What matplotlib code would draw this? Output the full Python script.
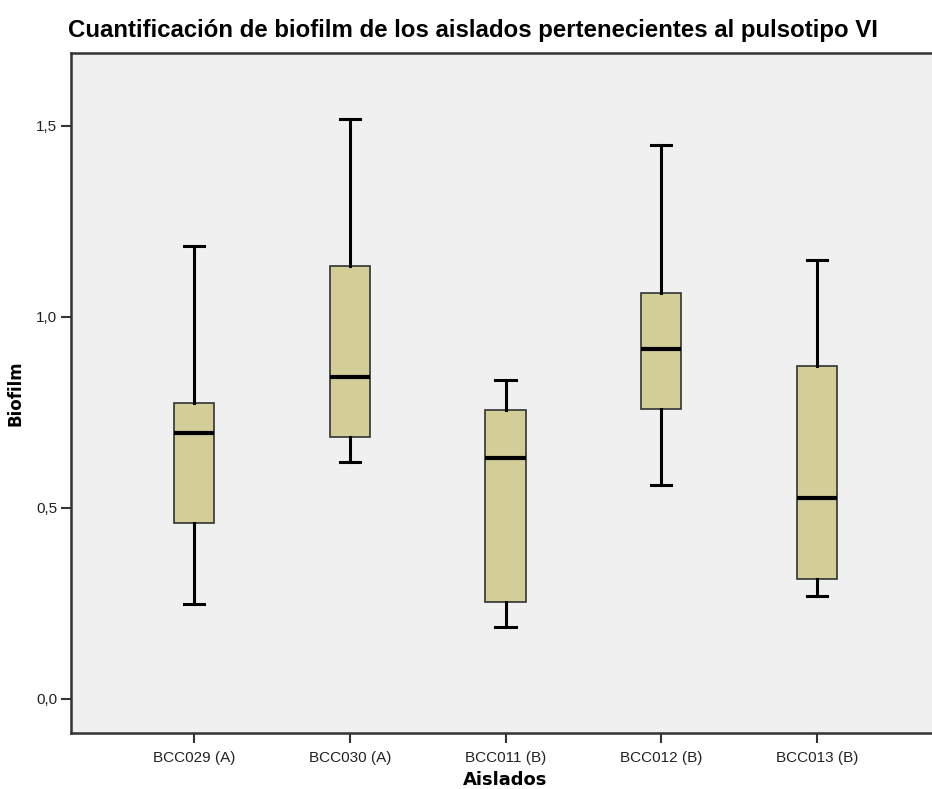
import matplotlib
matplotlib.use("Agg")
import matplotlib.pyplot as plt

aislados = ["BCC029 (A)", "BCC030 (A)", "BCC011 (B)", "BCC012 (B)", "BCC013 (B)"]
whislo = [0.249, 0.620, 0.188, 0.560, 0.270]
q1 = [0.461, 0.686, 0.254, 0.759, 0.314]
med = [0.696, 0.843, 0.631, 0.916, 0.526]
q3 = [0.775, 1.134, 0.757, 1.063, 0.872]
whishi = [1.186, 1.518, 0.835, 1.450, 1.149]
yticks = [0.0, 0.5, 1.0, 1.5]
ytick_labels = ["0,0", "0,5", "1,0", "1,5"]

stats = []
for i in range(len(aislados)):
    stats.append({"label": aislados[i], "whislo": whislo[i], "q1": q1[i],
                  "med": med[i], "q3": q3[i], "whishi": whishi[i]})

fig = plt.figure(figsize=(9.32, 7.89), dpi=100)
# axes goes a bit past the right edge like in the original export
ax = fig.add_axes([71/932, 1-733/789, (940-71)/932, (733-53)/789])
ax.set_facecolor("#f0f0f0")

ax.bxp(stats, positions=range(1, 6), widths=0.257, patch_artist=True,
       showfliers=False, capwidths=0.13,
       boxprops=dict(facecolor="#d3ce98", edgecolor="#333333", linewidth=1.2),
       medianprops=dict(color="black", linewidth=3),
       whiskerprops=dict(color="black", linewidth=2.2),
       capprops=dict(color="black", linewidth=2.2))

ax.set_xlim(0.21, 5.79)
ax.set_ylim(-0.089, 1.691)
ax.set_yticks(yticks)
ax.set_yticklabels(ytick_labels, family="Liberation Sans", fontsize=11, color="#222222")
ax.set_xticks(range(1, 6))
ax.set_xticklabels(aislados, family="Liberation Sans", fontsize=11, color="#222222")
ax.tick_params(axis="both", direction="out", length=7, width=1.5, color="#333333", pad=3)
ax.tick_params(axis="x", pad=6)

for s in ["left", "bottom", "top"]:
    ax.spines[s].set_linewidth(1.8)
    ax.spines[s].set_color("#333333")
ax.spines["right"].set_visible(False)

ax.set_xlabel("Aislados", fontsize=13, fontweight="bold", family="DejaVu Sans")
ax.xaxis.set_label_coords(0.5, -(780 - 733) / 680)
ax.xaxis.label.set_va("center")
ax.set_ylabel("Biofilm", fontsize=12, fontweight="bold", family="DejaVu Sans", labelpad=8)
fig.text(68/932, 1-30/789, "Cuantificación de biofilm de los aislados pertenecientes al pulsotipo VI",
         family="Liberation Sans", fontweight="bold", fontsize=17.3, va="center", ha="left")

fig.savefig("out.png", dpi=100)
